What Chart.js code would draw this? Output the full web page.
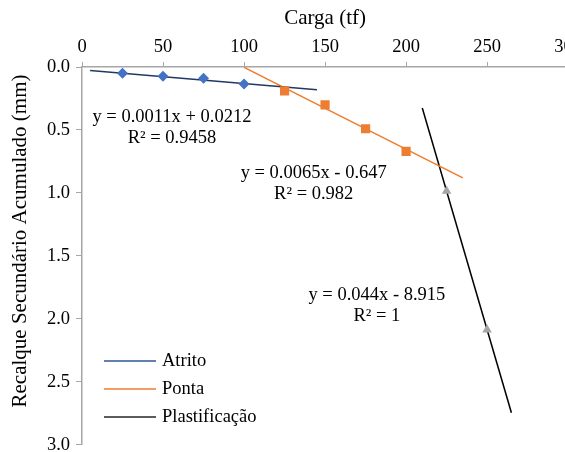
<!DOCTYPE html>
<html>
<head>
<meta charset="utf-8">
<script src="https://cdn.jsdelivr.net/npm/chart.js@4/dist/chart.umd.min.js"></script>
<style>
  html, body { margin: 0; padding: 0; background: #fff; overflow: hidden; }
  #wrap { width: 586px; height: 462px; }
</style>
</head>
<body>
<div id="wrap"><canvas id="grafico"></canvas></div>
<script>
// --- datos ---
const cargaAtrito = [25, 50, 75, 100];
const recalqueAtrito = [0.05, 0.074, 0.09, 0.135];
const cargaPonta = [125, 150, 175, 200];
const recalquePonta = [0.19, 0.30, 0.49, 0.67];
const cargaPlast = [225, 250];
const recalquePlast = [0.985, 2.085];

// extremos de las líneas de tendencia
const tendAtritoX = [5, 145];
const tendAtritoY = [0.027, 0.18];
const tendPontaX = [100, 235];
const tendPontaY = [0.003, 0.88];
const tendPlastX = [210, 265];
const tendPlastY = [0.325, 2.745];

const ticksX = [0, 50, 100, 150, 200, 250, 300];
const ticksY = [0, 0.5, 1, 1.5, 2, 2.5, 3];

const ecuaciones = [
    { x: 55.5, y: 0.40, lineas: ['y = 0.0011x + 0.0212', 'R² = 0.9458'] },
    { x: 143, y: 0.84, lineas: ['y = 0.0065x - 0.647', 'R² = 0.982'] },
    { x: 182, y: 1.81, lineas: ['y = 0.044x - 8.915', 'R² = 1'] }
];

const leyenda = [
    { texto: 'Atrito', color: '#2F5597' },
    { texto: 'Ponta', color: '#ED7D31' },
    { texto: 'Plastificação', color: '#262626' }
];

const FUENTE = '"Liberation Serif", "Times New Roman", serif';

function pares(xs, ys) {
    return xs.map((x, i) => ({ x: x, y: ys[i] }));
}

// --- plugin: ecuaciones, título del eje y, leyenda ---
const extras = {
    id: 'extras',
    afterDraw(chart) {
        const ctx = chart.ctx;
        const sx = chart.scales.x;
        const sy = chart.scales.y;
        ctx.save();
        ctx.fillStyle = '#000';
        ctx.font = '18.5px ' + FUENTE;
        ctx.textAlign = 'center';
        ctx.textBaseline = 'middle';
        ecuaciones.forEach(e => {
            const px = sx.getPixelForValue(e.x);
            const py = sy.getPixelForValue(e.y);
            e.lineas.forEach((t, i) => ctx.fillText(t, px, py + i * 21));
        });

        // título eje y
        ctx.save();
        ctx.translate(20, 241);
        ctx.rotate(-Math.PI / 2);
        ctx.font = '21px ' + FUENTE;
        ctx.fillText('Recalque Secundário Acumulado (mm)', 0, 0);
        ctx.restore();

        // leyenda
        ctx.textAlign = 'left';
        leyenda.forEach((l, i) => {
            const y = 361 + i * 28;
            ctx.strokeStyle = l.color;
            ctx.lineWidth = 1.5;
            ctx.beginPath();
            ctx.moveTo(104, y);
            ctx.lineTo(156, y);
            ctx.stroke();
            ctx.fillText(l.texto, 162, y);
        });
        ctx.restore();
    }
};

Chart.defaults.font.family = FUENTE;
Chart.defaults.font.size = 18.5;
Chart.defaults.color = '#000';

const ctx = document.getElementById('grafico').getContext('2d');

new Chart(ctx, {
    type: 'scatter',
    data: {
        datasets: [
            {
                label: 'Atrito pts',
                data: pares(cargaAtrito, recalqueAtrito),
                pointStyle: 'rectRot',
                pointRadius: 5.5,
                backgroundColor: '#4472C4',
                borderColor: '#4472C4',
                borderWidth: 0
            },
            {
                label: 'Ponta pts',
                data: pares(cargaPonta, recalquePonta),
                pointStyle: 'rect',
                pointRadius: 6.5,
                backgroundColor: '#ED7D31',
                borderColor: '#ED7D31',
                borderWidth: 0
            },
            {
                label: 'Plastificação pts',
                data: pares(cargaPlast, recalquePlast),
                pointStyle: 'triangle',
                pointRadius: 5.5,
                backgroundColor: '#A5A5A5',
                borderColor: '#A5A5A5',
                borderWidth: 0
            },
            {
                label: 'Atrito',
                data: pares(tendAtritoX, tendAtritoY),
                showLine: true,
                pointRadius: 0,
                borderColor: '#203864',
                borderWidth: 1.5
            },
            {
                label: 'Ponta',
                data: pares(tendPontaX, tendPontaY),
                showLine: true,
                pointRadius: 0,
                borderColor: '#ED7D31',
                borderWidth: 1.5
            },
            {
                label: 'Plastificação',
                data: pares(tendPlastX, tendPlastY),
                showLine: true,
                pointRadius: 0,
                borderColor: '#000000',
                borderWidth: 1.5
            }
        ]
    },
    options: {
        responsive: true,
        maintainAspectRatio: false,
        animation: false,
        layout: { padding: { left: 0, right: 0, top: 6, bottom: 0 } },
        plugins: {
            legend: { display: false },
            tooltip: { enabled: false }
        },
        scales: {
            x: {
                type: 'linear',
                position: 'top',
                min: 0,
                max: 300,
                afterBuildTicks: s => { s.ticks = ticksX.map(v => ({ value: v })); },
                ticks: { padding: 4 },
                title: { display: true, text: 'Carga (tf)', font: { size: 21 }, padding: { top: 0, bottom: 2 } },
                grid: { drawOnChartArea: false, tickLength: 5, color: '#A6A6A6' },
                border: { color: '#A6A6A6', width: 1.5 },
                afterFit: s => { s.height = 61; }
            },
            y: {
                type: 'linear',
                reverse: true,
                min: 0,
                max: 3,
                afterBuildTicks: s => { s.ticks = ticksY.map(v => ({ value: v })); },
                ticks: { padding: 6, callback: v => v.toFixed(1) },
                grid: { drawOnChartArea: false, tickLength: 6, color: '#A6A6A6' },
                border: { color: '#A6A6A6', width: 1.5 },
                afterFit: s => { s.width = 82; }
            }
        }
    },
    plugins: [extras]
});
</script>
</body>
</html>
